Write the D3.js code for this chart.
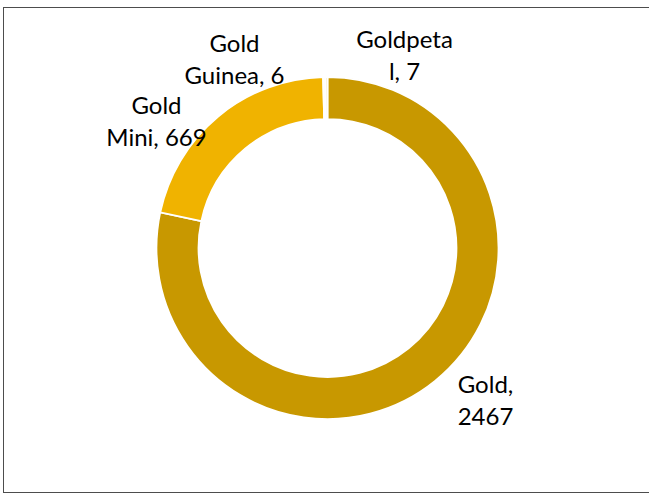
<!DOCTYPE html>
<html>
<head>
<meta charset="utf-8">
<script src="https://cdn.jsdelivr.net/npm/d3@7"></script>
<style>
  html, body { margin: 0; padding: 0; background: #fff; }
  svg { display: block; }
  text { font-family: Lato, "Open Sans", sans-serif; font-size: 24px; fill: #000; }
</style>
</head>
<body>
<svg id="chart"></svg>
<script>
// data (Excel order, clockwise from 12 o'clock)
const categories = ["Gold", "Gold Mini", "Gold Guinea", "Goldpetal"];
const values = [2467, 669, 6, 7];
// label lines as Excel wrapped them
const labelLines = [["Gold,", "2467"], ["Gold", "Mini, 669"], ["Gold", "Guinea, 6"], ["Goldpeta", "l, 7"]];

const colors = ["#c89800", "#f0b300", "#fbf0d2", "#f8ecc8"];

const width = 649, height = 494;
const cx = 327.5, cy = 248;
const outerR = 171, innerR = 129;
// label centres relative to the donut centre (first-line baseline)
const labelOffsets = [[158, 145], [-171, -134], [-93, -196], [77, -200]];
const lineGap = 32;

const svg = d3.select("#chart")
  .attr("width", width)
  .attr("height", height);

// chart area border (right edge runs off the page)
svg.append("rect")
  .attr("x", 3.5).attr("y", 7.5)
  .attr("width", 680).attr("height", 485)
  .attr("fill", "none")
  .attr("stroke", "#4d4d4d")
  .attr("stroke-width", 1);

const pie = d3.pie().sort(null).value(d => d);
const arc = d3.arc().innerRadius(innerR).outerRadius(outerR);

const g = svg.append("g").attr("transform", "translate(" + cx + "," + cy + ")");

g.selectAll("path")
  .data(pie(values))
  .enter()
  .append("path")
  .attr("d", arc)
  .attr("fill", (d, i) => colors[i])
  .attr("stroke", "#fff")
  .attr("stroke-width", 1.75);

const labels = g.selectAll(".lbl")
  .data(categories)
  .enter()
  .append("text")
  .attr("class", "lbl")
  .attr("text-anchor", "middle")
  .attr("transform", (d, i) => "translate(" + labelOffsets[i][0] + "," + labelOffsets[i][1] + ")");

labels.selectAll("tspan")
  .data((d, i) => labelLines[i])
  .enter()
  .append("tspan")
  .attr("x", 0)
  .attr("y", (d, j) => j * lineGap)
  .text(d => d);
</script>
</body>
</html>
